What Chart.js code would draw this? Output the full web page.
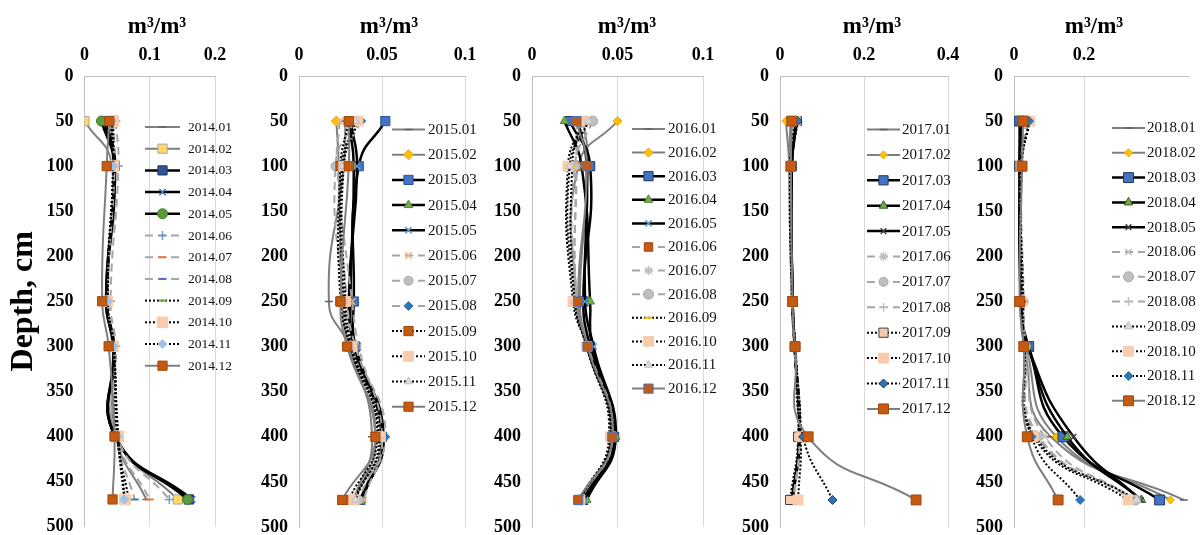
<!DOCTYPE html>
<html>
<head>
<meta charset="utf-8">
<script src="https://cdn.jsdelivr.net/npm/chart.js@4.4.0/dist/chart.umd.min.js"></script>
<style>
  html, body { margin: 0; padding: 0; background: #fff; }
  #wrap { position: relative; width: 1200px; height: 535px; overflow: hidden; }
  #wrap canvas { position: absolute; top: 0; }
</style>
</head>
<body>
<div id="wrap">
  <canvas id="c2014" width="240" height="535" style="left:0px"></canvas>
  <canvas id="c2015" width="240" height="535" style="left:240px"></canvas>
  <canvas id="c2016" width="240" height="535" style="left:480px"></canvas>
  <canvas id="c2017" width="240" height="535" style="left:720px"></canvas>
  <canvas id="c2018" width="240" height="535" style="left:960px"></canvas>
</div>
<script>
// Sampling depths, cm
const depths = [50, 100, 250, 300, 400, 470];
const monthCodes = ['01', '02', '03', '04', '05', '06', '07', '08', '09', '10', '11', '12'];
const years = [2014, 2015, 2016, 2017, 2018];

// Soil water content, m3/m3 — one row per month, one value per depth
const theta2014 = [
  [0.040, 0.045, 0.035, 0.044, 0.048, 0.095],
  [0.000, 0.042, 0.034, 0.043, 0.049, 0.143],
  [0.030, 0.046, 0.033, 0.045, 0.047, 0.160],
  [0.033, 0.047, 0.034, 0.046, 0.047, 0.165],
  [0.026, 0.045, 0.033, 0.044, 0.047, 0.158],
  [0.048, 0.052, 0.040, 0.048, 0.050, 0.130],
  [0.044, 0.046, 0.036, 0.046, 0.050, 0.100],
  [0.042, 0.045, 0.036, 0.045, 0.049, 0.077],
  [0.040, 0.044, 0.035, 0.045, 0.050, 0.068],
  [0.044, 0.044, 0.035, 0.044, 0.052, 0.062],
  [0.042, 0.044, 0.036, 0.045, 0.051, 0.061],
  [0.038, 0.034, 0.027, 0.037, 0.046, 0.043]
];
const theta2015 = [
  [0.028, 0.027, 0.018, 0.030, 0.044, 0.033],
  [0.0225, 0.024, 0.026, 0.030, 0.046, 0.034],
  [0.052, 0.036, 0.033, 0.034, 0.050, 0.037],
  [0.030, 0.033, 0.031, 0.033, 0.050, 0.038],
  [0.031, 0.035, 0.030, 0.034, 0.051, 0.037],
  [0.0245, 0.023, 0.032, 0.036, 0.050, 0.039],
  [0.033, 0.022, 0.027, 0.032, 0.049, 0.036],
  [0.0375, 0.025, 0.029, 0.034, 0.052, 0.032],
  [0.030, 0.025, 0.025, 0.031, 0.047, 0.030],
  [0.0355, 0.027, 0.028, 0.032, 0.049, 0.033],
  [0.034, 0.026, 0.027, 0.031, 0.048, 0.034],
  [0.030, 0.030, 0.025, 0.029, 0.046, 0.026]
];
const theta2016 = [
  [0.030, 0.033, 0.028, 0.033, 0.048, 0.029],
  [0.050, 0.027, 0.026, 0.032, 0.046, 0.028],
  [0.022, 0.034, 0.030, 0.034, 0.048, 0.030],
  [0.019, 0.029, 0.034, 0.035, 0.049, 0.032],
  [0.027, 0.032, 0.031, 0.036, 0.048, 0.031],
  [0.026, 0.026, 0.026, 0.033, 0.047, 0.028],
  [0.028, 0.026, 0.026, 0.032, 0.047, 0.028],
  [0.0355, 0.025, 0.026, 0.032, 0.047, 0.028],
  [0.029, 0.0235, 0.025, 0.032, 0.045, 0.028],
  [0.030, 0.021, 0.024, 0.032, 0.046, 0.028],
  [0.033, 0.022, 0.025, 0.032, 0.046, 0.028],
  [0.026, 0.032, 0.027, 0.0325, 0.047, 0.027]
];
const theta2017 = [
  [0.025, 0.022, 0.028, 0.034, 0.045, 0.030],
  [0.014, 0.022, 0.028, 0.034, 0.045, 0.030],
  [0.040, 0.028, 0.030, 0.035, 0.046, 0.028],
  [0.038, 0.028, 0.030, 0.035, 0.046, 0.029],
  [0.040, 0.028, 0.030, 0.035, 0.047, 0.030],
  [0.030, 0.025, 0.029, 0.035, 0.047, 0.032],
  [0.030, 0.025, 0.029, 0.035, 0.047, 0.032],
  [0.030, 0.025, 0.029, 0.035, 0.047, 0.033],
  [0.035, 0.024, 0.029, 0.036, 0.043, 0.024],
  [0.036, 0.025, 0.030, 0.036, 0.050, 0.043],
  [0.042, 0.028, 0.031, 0.037, 0.055, 0.125],
  [0.028, 0.026, 0.030, 0.036, 0.067, 0.324]
];
const theta2018 = [
  [0.020, 0.015, 0.020, 0.030, 0.105, 0.485],
  [0.025, 0.018, 0.022, 0.035, 0.121, 0.447],
  [0.016, 0.016, 0.020, 0.042, 0.140, 0.416],
  [0.020, 0.017, 0.021, 0.040, 0.152, 0.364],
  [0.022, 0.017, 0.022, 0.040, 0.170, 0.362],
  [0.035, 0.020, 0.024, 0.035, 0.088, 0.345],
  [0.038, 0.021, 0.026, 0.033, 0.066, 0.347],
  [0.040, 0.022, 0.028, 0.032, 0.072, 0.340],
  [0.045, 0.022, 0.026, 0.030, 0.060, 0.350],
  [0.045, 0.020, 0.022, 0.028, 0.055, 0.326],
  [0.043, 0.022, 0.022, 0.028, 0.050, 0.189],
  [0.026, 0.023, 0.016, 0.028, 0.038, 0.126]
];

// x-axis ranges per year
const xMax = [0.2, 0.1, 0.1, 0.4, 0.5];
const xStep = [0.1, 0.05, 0.05, 0.2, 0.2];

// ---- styling ----
const SERIF = '"Liberation Serif", "Times New Roman", serif';
Chart.defaults.font.family = SERIF;
Chart.defaults.color = '#000';

const LINE_STYLES = {
  gray:   { color: '#7f7f7f', width: 2,   dash: [] },
  black:  { color: '#000000', width: 2.5, dash: [] },
  dashed: { color: '#a6a6a6', width: 2,   dash: [8, 5] },
  dotted: { color: '#000000', width: 2,   dash: [2, 2] }
};
const lineKind = ['gray', 'gray', 'black', 'black', 'black', 'dashed', 'dashed', 'dashed', 'dotted', 'dotted', 'dotted', 'gray'];

// [pointStyle, radius, fill, border, borderWidth]
const markers2014 = [
  ['line', 4, '#5f5f5f', '#5f5f5f', 1.5],
  ['rect', 6.5, '#ffd966', '#a6a6a6', 1],
  ['rect', 6.5, '#2f5597', '#1f3864', 1],
  ['crossRot', 4.5, '#4472c4', '#4472c4', 1.5],
  ['circle', 5, '#5b9b3c', '#3f7a2a', 1],
  ['cross', 4.5, '#8faadc', '#6f97d9', 1.5],
  ['line', 4, '#ed7d31', '#ed7d31', 2],
  ['line', 4, '#4472c4', '#4472c4', 2],
  ['line', 4, '#70ad47', '#70ad47', 2],
  ['rect', 7.5, '#f8cbad', '#f8cbad', 1],
  ['rectRot', 4.5, '#9dc3e6', '#9dc3e6', 1],
  ['rect', 6.5, '#c55a11', '#a0480d', 1]
];
const markers2015 = [
  ['line', 4, '#5f5f5f', '#5f5f5f', 1.5],
  ['rectRot', 5, '#ffc000', '#e0a800', 1],
  ['rect', 6.5, '#4472c4', '#2f5597', 1],
  ['triangle', 5, '#70ad47', '#548235', 1],
  ['crossRot', 4.5, '#5b9bd5', '#5b9bd5', 1.5],
  ['crossRot', 4.5, '#f4b183', '#f4b183', 1.5],
  ['circle', 4.5, '#bfbfbf', '#a6a6a6', 1],
  ['rectRot', 4.5, '#2e75b6', '#2e75b6', 1],
  ['rect', 6.5, '#c55a11', '#a0480d', 1],
  ['rect', 7, '#f8cbad', '#f8cbad', 1],
  ['triangle', 4.5, '#d9d9d9', '#bfbfbf', 1],
  ['rect', 6.5, '#c55a11', '#a0480d', 1]
];
const markers2016 = [
  ['line', 4, '#5f5f5f', '#5f5f5f', 1.5],
  ['rectRot', 4.5, '#ffc000', '#e0a800', 1],
  ['rect', 6.5, '#4472c4', '#1f3864', 1],
  ['triangle', 5, '#70ad47', '#548235', 1],
  ['crossRot', 4.5, '#5b9bd5', '#5b9bd5', 1.5],
  ['rect', 6, '#c55a11', '#a0480d', 1],
  ['star', 4.5, '#bfbfbf', '#bfbfbf', 1.5],
  ['circle', 5, '#bfbfbf', '#a6a6a6', 1],
  ['line', 4, '#ffc000', '#ffc000', 2],
  ['rect', 7, '#f8cbad', '#f8cbad', 1],
  ['triangle', 4.5, '#d9d9d9', '#bfbfbf', 1],
  ['rect', 6.5, '#c55a11', '#4472c4', 1]
];
const markers2017 = [
  ['line', 4, '#5f5f5f', '#5f5f5f', 1.5],
  ['rectRot', 4, '#ffc000', '#e0a800', 1],
  ['rect', 6.5, '#4472c4', '#203864', 1],
  ['triangle', 5, '#70ad47', '#385723', 1],
  ['crossRot', 4, '#404040', '#404040', 1.5],
  ['star', 4.5, '#bfbfbf', '#bfbfbf', 1.5],
  ['circle', 4.5, '#bfbfbf', '#a6a6a6', 1],
  ['cross', 4.5, '#bfbfbf', '#bfbfbf', 1.5],
  ['rect', 6.5, '#f8cbad', '#404040', 1],
  ['rect', 7, '#f8cbad', '#f8cbad', 1],
  ['rectRot', 4.5, '#2e75b6', '#1f3864', 1],
  ['rect', 7, '#c55a11', '#a0480d', 1]
];
const markers2018 = [
  ['line', 4, '#5f5f5f', '#5f5f5f', 1.5],
  ['rectRot', 4, '#ffc000', '#e0a800', 1],
  ['rect', 7, '#4472c4', '#203864', 1],
  ['triangle', 5, '#70ad47', '#385723', 1],
  ['crossRot', 4, '#404040', '#404040', 1.5],
  ['crossRot', 4.5, '#bfbfbf', '#bfbfbf', 1.5],
  ['circle', 5, '#bfbfbf', '#a6a6a6', 1],
  ['cross', 4.5, '#bfbfbf', '#bfbfbf', 1.5],
  ['triangle', 5, '#d9d9d9', '#bfbfbf', 1],
  ['rect', 7, '#f8cbad', '#f8cbad', 1],
  ['rectRot', 4.5, '#2e75b6', '#2e75b6', 1],
  ['rect', 7, '#c55a11', '#a0480d', 1]
];

// Panel geometry: canvas left, plot area [left, right] in page pixels, title and legend placement
const PLOT_TOP = 76, PLOT_BOTTOM = 527, CANVAS_W = 240, CANVAS_H = 535;
const panels = [
  { year: 2014, rows: theta2014, marks: markers2014, left: 0,   area: [84.5, 215], yw: 84.5, titleX: 157,
    legend: { x: 145, tx: 188, y0: 127, dy: 21.7, len: 35, size: 13.5 } },
  { year: 2015, rows: theta2015, marks: markers2015, left: 240, area: [299, 465], yw: 50, titleX: 389,
    legend: { x: 392, tx: 428, y0: 129.5, dy: 25.2, len: 33, size: 15 } },
  { year: 2016, rows: theta2016, marks: markers2016, left: 480, area: [532, 703], yw: 50, titleX: 627,
    legend: { x: 632, tx: 668, y0: 129, dy: 23.6, len: 33, size: 15 } },
  { year: 2017, rows: theta2017, marks: markers2017, left: 720, area: [780, 948], yw: 50, titleX: 872,
    legend: { x: 867, tx: 902, y0: 129.5, dy: 25.4, len: 33, size: 15 } },
  { year: 2018, rows: theta2018, marks: markers2018, left: 960, area: [1014, 1189], yw: 50, titleX: 1094,
    legend: { x: 1112, tx: 1147, y0: 128, dy: 24.8, len: 33, size: 15 } }
];

function drawMarker(ctx, style, radius, bw, x, y) {
  if (Chart.helpers && Chart.helpers.drawPoint) {
    Chart.helpers.drawPoint(ctx, { pointStyle: style, radius: radius, borderWidth: bw, rotation: 0 }, x, y);
    return;
  }
  ctx.beginPath();
  ctx.arc(x, y, radius, 0, Math.PI * 2);
  ctx.fill();
  ctx.stroke();
}

// Line-and-marker legend drawn inside the plot, one row per month
const sampleLegend = {
  id: 'sampleLegend',
  afterDraw(chart, args, o) {
    const ctx = chart.ctx;
    chart.data.datasets.forEach((ds, i) => {
      const y = o.y0 + i * o.dy;
      ctx.save();
      ctx.strokeStyle = ds.borderColor;
      ctx.lineWidth = ds.borderWidth;
      ctx.setLineDash(ds.borderDash || []);
      ctx.beginPath();
      ctx.moveTo(o.x, y);
      ctx.lineTo(o.x + o.len, y);
      ctx.stroke();
      ctx.setLineDash([]);
      ctx.fillStyle = ds.pointBackgroundColor;
      ctx.strokeStyle = ds.pointBorderColor;
      ctx.lineWidth = ds.pointBorderWidth;
      drawMarker(ctx, ds.pointStyle, ds.pointRadius, ds.pointBorderWidth, o.x + o.len / 2, y);
      ctx.fillStyle = '#111';
      ctx.font = o.size + 'px ' + SERIF;
      ctx.textAlign = 'left';
      ctx.textBaseline = 'middle';
      ctx.fillText(ds.label, o.tx, y + 0.5);
      ctx.restore();
    });
  }
};

// Unit label above the top axis
const unitTitle = {
  id: 'unitTitle',
  afterDraw(chart, args, o) {
    const ctx = chart.ctx;
    ctx.save();
    ctx.font = 'bold 23px ' + SERIF;
    ctx.fillStyle = '#000';
    ctx.textAlign = 'center';
    ctx.textBaseline = 'middle';
    ctx.fillText('m³/m³', o.x, o.y);
    ctx.restore();
  }
};

// Plain decimal tick text: 0, 0.05, 0.1 ...
const plainTick = v => String(Math.round(v * 1000) / 1000);

panels.forEach((p, idx) => {
  const max = xMax[idx];
  const datasets = p.rows.map((vals, m) => {
    const ls = LINE_STYLES[lineKind[m]];
    const mk = p.marks[m];
    return {
      label: p.year + '.' + monthCodes[m],
      data: vals.map((v, k) => ({ x: v, y: depths[k] })),
      showLine: true,
      tension: 0.5,
      borderColor: ls.color,
      borderWidth: ls.width,
      borderDash: ls.dash,
      pointStyle: mk[0],
      pointRadius: mk[1],
      pointBackgroundColor: mk[2],
      pointBorderColor: mk[3],
      pointBorderWidth: mk[4],
      order: 12 - m
    };
  });

  const tickFont = { family: SERIF, size: 18, weight: 'bold' };
  const ctx = document.getElementById('c' + p.year).getContext('2d');
  new Chart(ctx, {
    type: 'scatter',
    data: { datasets },
    options: {
      responsive: false,
      animation: false,
      devicePixelRatio: 1,
      events: [],
      layout: {
        padding: {
          left: p.area[0] - p.left - p.yw,
          right: p.left + CANVAS_W - p.area[1],
          top: 0,
          bottom: CANVAS_H - PLOT_BOTTOM
        }
      },
      plugins: {
        legend: { display: false },
        tooltip: { enabled: false },
        sampleLegend: {
          x: p.legend.x - p.left, tx: p.legend.tx - p.left, y0: p.legend.y0,
          dy: p.legend.dy, len: p.legend.len, size: p.legend.size
        },
        unitTitle: { x: p.titleX - p.left, y: 27 }
      },
      scales: {
        x: {
          type: 'linear',
          position: 'top',
          min: 0,
          max: max,
          ticks: { stepSize: xStep[idx], padding: 10, font: tickFont, color: '#000', callback: plainTick },
          grid: { color: '#d9d9d9', lineWidth: 1, drawTicks: false },
          border: { display: true, color: '#bfbfbf', width: 1 },
          afterBuildTicks(s) {
            s.ticks = s.ticks.filter(t => t.value <= Math.floor(max / xStep[idx] + 1e-6) * xStep[idx] + 1e-6);
          },
          afterFit(s) { s.height = PLOT_TOP; s.paddingLeft = 0; s.paddingRight = 0; }
        },
        y: {
          type: 'linear',
          position: 'left',
          reverse: true,
          min: 0,
          max: 500,
          ticks: { stepSize: 50, padding: 11, font: tickFont, color: '#000' },
          grid: { display: false, drawTicks: false },
          border: { display: true, color: '#bfbfbf', width: 1 },
          title: {
            display: idx === 0,
            text: 'Depth, cm',
            color: '#000',
            font: { family: SERIF, size: 32, weight: 'bold' },
            padding: { top: 5, bottom: 0 }
          },
          afterFit(s) { s.width = p.yw; s.paddingTop = 0; s.paddingBottom = 0; }
        }
      }
    },
    plugins: [sampleLegend, unitTitle]
  });
});
</script>
</body>
</html>
